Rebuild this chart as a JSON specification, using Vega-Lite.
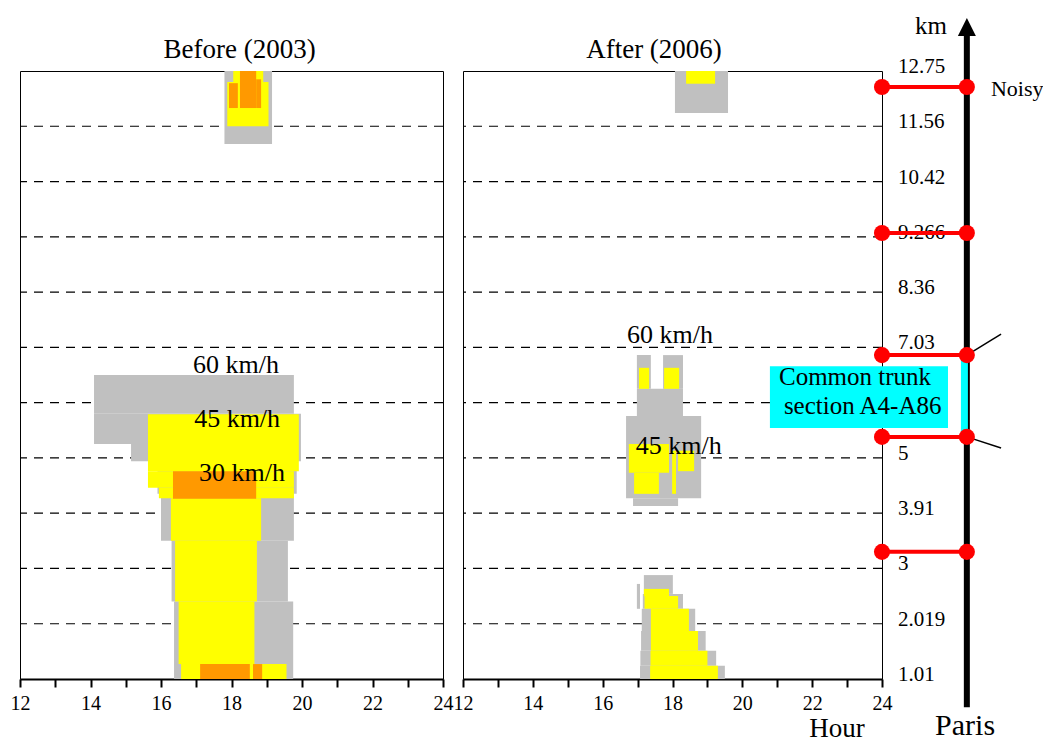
{
  "$schema": "https://vega.github.io/schema/vega-lite/v6.json",
  "padding": {"left": 9, "top": 13, "right": 0, "bottom": 0},
  "bounds": "flush",
  "spacing": 20,
  "config": {
    "font": "Liberation Serif",
    "view": {"stroke": "#000", "strokeWidth": 1},
    "axisX": {
      "values": [12, 13, 14, 15, 16, 17, 18, 19, 20, 21, 22, 23, 24],
      "labelExpr": "datum.value % 2 == 0 ? datum.label : ''",
      "tickSize": 8, "tickWidth": 2, "tickColor": "#000",
      "domainColor": "#000", "domainWidth": 2,
      "labelFont": "Liberation Serif", "labelFontSize": 20, "labelColor": "#000",
      "labelPadding": 6, "grid": false, "title": null, "labelFlush": false
    }
  },
  "datasets": {
    "dashes": [{"v": 1}, {"v": 2}, {"v": 3}, {"v": 4}, {"v": 5}, {"v": 6}, {"v": 7}, {"v": 8}, {"v": 9}, {"v": 10}],
    "titles": [
      {"panel": "Before", "label": "Before (2003)", "x": 18.23, "y": 11.236},
      {"panel": "After", "label": "After (2006)", "x": 17.47, "y": 11.236}
    ],
    "cells": [
      {"panel": "Before", "speed": "60", "x1": 17.8, "x2": 19.15, "y1": 9.68, "y2": 11},
      {"panel": "Before", "speed": "60", "x1": 14.1, "x2": 19.77, "y1": 4.8, "y2": 5.5},
      {"panel": "Before", "speed": "60", "x1": 14.1, "x2": 19.97, "y1": 4.25, "y2": 4.8},
      {"panel": "Before", "speed": "60", "x1": 15.15, "x2": 19.97, "y1": 3.94, "y2": 4.25},
      {"panel": "Before", "speed": "60", "x1": 15.9, "x2": 19.85, "y1": 3.35, "y2": 3.94},
      {"panel": "Before", "speed": "60", "x1": 16.0, "x2": 19.77, "y1": 2.5, "y2": 3.35},
      {"panel": "Before", "speed": "60", "x1": 16.3, "x2": 19.6, "y1": 1.4, "y2": 2.5},
      {"panel": "Before", "speed": "60", "x1": 16.37, "x2": 19.75, "y1": 0, "y2": 1.4},
      {"panel": "Before", "speed": "45", "x1": 17.88, "x2": 19.05, "y1": 10.0, "y2": 10.8},
      {"panel": "Before", "speed": "45", "x1": 18.05, "x2": 18.9, "y1": 10.8, "y2": 11},
      {"panel": "Before", "speed": "45", "x1": 15.63, "x2": 19.91, "y1": 3.76, "y2": 4.79},
      {"panel": "Before", "speed": "45", "x1": 15.63, "x2": 19.77, "y1": 3.46, "y2": 3.76},
      {"panel": "Before", "speed": "45", "x1": 15.94, "x2": 19.77, "y1": 3.27, "y2": 3.46},
      {"panel": "Before", "speed": "45", "x1": 16.28, "x2": 18.84, "y1": 2.5, "y2": 3.27},
      {"panel": "Before", "speed": "45", "x1": 16.4, "x2": 18.72, "y1": 1.4, "y2": 2.5},
      {"panel": "Before", "speed": "45", "x1": 16.5, "x2": 18.65, "y1": 0.27, "y2": 1.4},
      {"panel": "Before", "speed": "45", "x1": 16.57, "x2": 19.56, "y1": 0, "y2": 0.27},
      {"panel": "Before", "speed": "30", "x1": 18.24, "x2": 18.7, "y1": 10.33, "y2": 11},
      {"panel": "Before", "speed": "30", "x1": 18.7, "x2": 18.84, "y1": 10.33, "y2": 10.85},
      {"panel": "Before", "speed": "30", "x1": 17.93, "x2": 18.18, "y1": 10.33, "y2": 10.78},
      {"panel": "Before", "speed": "30", "x1": 16.34, "x2": 18.7, "y1": 3.26, "y2": 3.76},
      {"panel": "Before", "speed": "30", "x1": 17.11, "x2": 18.52, "y1": 0, "y2": 0.27},
      {"panel": "Before", "speed": "30", "x1": 18.61, "x2": 18.87, "y1": 0, "y2": 0.27},
      {"panel": "After", "speed": "60", "x1": 18.07, "x2": 19.59, "y1": 10.24, "y2": 11},
      {"panel": "After", "speed": "60", "x1": 16.98, "x2": 17.38, "y1": 5.25, "y2": 5.86},
      {"panel": "After", "speed": "60", "x1": 17.73, "x2": 18.3, "y1": 5.25, "y2": 5.86},
      {"panel": "After", "speed": "60", "x1": 16.98, "x2": 18.3, "y1": 4.76, "y2": 5.25},
      {"panel": "After", "speed": "60", "x1": 16.67, "x2": 18.82, "y1": 3.27, "y2": 4.76},
      {"panel": "After", "speed": "60", "x1": 16.87, "x2": 18.16, "y1": 3.13, "y2": 3.27},
      {"panel": "After", "speed": "60", "x1": 17.18, "x2": 18.01, "y1": 1.54, "y2": 1.88},
      {"panel": "After", "speed": "60", "x1": 17.15, "x2": 18.3, "y1": 1.27, "y2": 1.54},
      {"panel": "After", "speed": "60", "x1": 17.12, "x2": 18.65, "y1": 0.87, "y2": 1.27},
      {"panel": "After", "speed": "60", "x1": 17.1, "x2": 18.95, "y1": 0.51, "y2": 0.87},
      {"panel": "After", "speed": "60", "x1": 17.08, "x2": 19.25, "y1": 0.24, "y2": 0.51},
      {"panel": "After", "speed": "60", "x1": 17.07, "x2": 19.5, "y1": 0, "y2": 0.24},
      {"panel": "After", "speed": "60", "x1": 16.98, "x2": 17.07, "y1": 1.27, "y2": 1.72},
      {"panel": "After", "speed": "45", "x1": 18.39, "x2": 19.22, "y1": 10.77, "y2": 11},
      {"panel": "After", "speed": "45", "x1": 17.04, "x2": 17.33, "y1": 5.25, "y2": 5.63},
      {"panel": "After", "speed": "45", "x1": 17.76, "x2": 18.19, "y1": 5.25, "y2": 5.63},
      {"panel": "After", "speed": "45", "x1": 16.75, "x2": 17.9, "y1": 3.73, "y2": 4.25},
      {"panel": "After", "speed": "45", "x1": 16.9, "x2": 17.61, "y1": 3.35, "y2": 3.73},
      {"panel": "After", "speed": "45", "x1": 18.16, "x2": 18.62, "y1": 3.76, "y2": 4.13},
      {"panel": "After", "speed": "45", "x1": 17.99, "x2": 18.1, "y1": 3.35, "y2": 4.13},
      {"panel": "After", "speed": "45", "x1": 17.18, "x2": 17.9, "y1": 1.5, "y2": 1.63},
      {"panel": "After", "speed": "45", "x1": 17.2, "x2": 18.16, "y1": 1.27, "y2": 1.5},
      {"panel": "After", "speed": "45", "x1": 17.38, "x2": 18.47, "y1": 0.87, "y2": 1.27},
      {"panel": "After", "speed": "45", "x1": 17.38, "x2": 18.73, "y1": 0.51, "y2": 0.87},
      {"panel": "After", "speed": "45", "x1": 17.37, "x2": 19.0, "y1": 0.24, "y2": 0.51},
      {"panel": "After", "speed": "45", "x1": 17.36, "x2": 19.3, "y1": 0, "y2": 0.24}
    ],
    "speedLabels": [
      {"panel": "Before", "label": "60 km/h", "x": 16.91, "y": 5.54},
      {"panel": "Before", "label": "45 km/h", "x": 16.94, "y": 4.56},
      {"panel": "Before", "label": "30 km/h", "x": 17.08, "y": 3.58},
      {"panel": "After", "label": "60 km/h", "x": 16.7, "y": 6.08},
      {"panel": "After", "label": "45 km/h", "x": 16.95, "y": 4.07}
    ],
    "kmLabels": [
      {"v": 0, "label": "1.01"}, {"v": 1, "label": "2.019"}, {"v": 2, "label": "3"},
      {"v": 3, "label": "3.91"}, {"v": 4, "label": "5"}, {"v": 6, "label": "7.03"},
      {"v": 7, "label": "8.36"}, {"v": 8, "label": "9.266"}, {"v": 9, "label": "10.42"},
      {"v": 10, "label": "11.56"}, {"v": 11, "label": "12.75"}
    ],
    "markers": [{"y": 10.71}, {"y": 8.07}, {"y": 5.86}, {"y": 4.38}, {"y": 2.3}],
    "boxText": [
      {"label": "Common trunk", "x": 21.05, "y": 5.32},
      {"label": "section A4-A86", "x": 21.19, "y": 4.79}
    ],
    "one": [{}]
  },
  "hconcat": [
    {
      "width": 423,
      "height": 608,
      "layer": [
        {
          "data": {"name": "dashes"},
          "mark": {"type": "rule", "strokeDash": [9, 7], "strokeWidth": 1.2, "color": "#000"},
          "encoding": {"y": {"field": "v", "type": "quantitative", "scale": {"domain": [0, 11], "nice": false, "zero": false}, "axis": null}}
        },
        {
          "data": {"name": "cells"},
          "transform": [{"filter": "datum.panel == 'Before'"}],
          "mark": {"type": "rect"},
          "encoding": {
            "x": {"field": "x1", "type": "quantitative", "scale": {"domain": [12, 24], "nice": false, "zero": false}},
            "x2": {"field": "x2"},
            "y": {"field": "y1", "type": "quantitative"},
            "y2": {"field": "y2"},
            "color": {"field": "speed", "type": "nominal", "scale": {"domain": ["60", "45", "30"], "range": ["#c0c0c0", "#ffff00", "#ff9900"]}, "legend": null}
          }
        },
        {
          "data": {"name": "speedLabels"},
          "transform": [{"filter": "datum.panel == 'Before'"}],
          "mark": {"type": "text", "align": "left", "baseline": "alphabetic", "fontSize": 26, "font": "Liberation Serif", "color": "#000"},
          "encoding": {
            "x": {"field": "x", "type": "quantitative"},
            "y": {"field": "y", "type": "quantitative"},
            "text": {"field": "label"}
          }
        },
        {
          "data": {"name": "titles"},
          "transform": [{"filter": "datum.panel == 'Before'"}],
          "mark": {"type": "text", "align": "center", "baseline": "alphabetic", "fontSize": 27, "font": "Liberation Serif", "color": "#000"},
          "encoding": {
            "x": {"field": "x", "type": "quantitative"},
            "y": {"field": "y", "type": "quantitative"},
            "text": {"field": "label"}
          }
        }
      ]
    },
    {
      "width": 419,
      "height": 608,
      "layer": [
        {
          "data": {"name": "dashes"},
          "mark": {"type": "rule", "strokeDash": [9, 7], "strokeWidth": 1.2, "color": "#000"},
          "encoding": {"y": {"field": "v", "type": "quantitative", "scale": {"domain": [0, 11], "nice": false, "zero": false}, "axis": null}}
        },
        {
          "data": {"name": "cells"},
          "transform": [{"filter": "datum.panel == 'After'"}],
          "mark": {"type": "rect"},
          "encoding": {
            "x": {"field": "x1", "type": "quantitative", "scale": {"domain": [12, 24], "nice": false, "zero": false}},
            "x2": {"field": "x2"},
            "y": {"field": "y1", "type": "quantitative"},
            "y2": {"field": "y2"},
            "color": {"field": "speed", "type": "nominal", "scale": {"domain": ["60", "45", "30"], "range": ["#c0c0c0", "#ffff00", "#ff9900"]}, "legend": null}
          }
        },
        {
          "data": {"name": "speedLabels"},
          "transform": [{"filter": "datum.panel == 'After'"}],
          "mark": {"type": "text", "align": "left", "baseline": "alphabetic", "fontSize": 26, "font": "Liberation Serif", "color": "#000"},
          "encoding": {
            "x": {"field": "x", "type": "quantitative"},
            "y": {"field": "y", "type": "quantitative"},
            "text": {"field": "label"}
          }
        },
        {
          "data": {"name": "titles"},
          "transform": [{"filter": "datum.panel == 'After'"}],
          "mark": {"type": "text", "align": "center", "baseline": "alphabetic", "fontSize": 27, "font": "Liberation Serif", "color": "#000"},
          "encoding": {
            "x": {"field": "x", "type": "quantitative"},
            "y": {"field": "y", "type": "quantitative"},
            "text": {"field": "label"}
          }
        },
        {
          "data": {"name": "kmLabels"},
          "mark": {"type": "text", "align": "left", "baseline": "alphabetic", "fontSize": 21, "font": "Liberation Serif", "color": "#000", "dx": 16, "dy": 2},
          "encoding": {
            "x": {"datum": 24},
            "y": {"field": "v", "type": "quantitative"},
            "text": {"field": "label"}
          }
        },
        {
          "data": {"name": "one"},
          "mark": {"type": "rule", "color": "#000", "strokeWidth": 6, "strokeCap": "butt"},
          "encoding": {"x": {"datum": 26.43}, "y": {"datum": -0.51}, "y2": {"datum": 11.64}}
        },
        {
          "data": {"name": "one"},
          "mark": {"type": "point", "shape": "M0,-1L1,1L-1,1Z", "filled": true, "color": "#000", "size": 324, "opacity": 1},
          "encoding": {"x": {"datum": 26.43}, "y": {"datum": 11.797}}
        },
        {
          "data": {"name": "one"},
          "mark": {"type": "rule", "color": "#00ffff", "strokeWidth": 7, "strokeCap": "butt"},
          "encoding": {"x": {"datum": 26.36}, "y": {"datum": 4.38}, "y2": {"datum": 5.86}}
        },
        {
          "data": {"name": "one"},
          "mark": {"type": "rule", "color": "#000", "strokeWidth": 1.5},
          "encoding": {"x": {"datum": 26.43}, "x2": {"datum": 27.41}, "y": {"datum": 5.86}, "y2": {"datum": 6.24}}
        },
        {
          "data": {"name": "one"},
          "mark": {"type": "rule", "color": "#000", "strokeWidth": 1.5},
          "encoding": {"x": {"datum": 26.43}, "x2": {"datum": 27.41}, "y": {"datum": 4.38}, "y2": {"datum": 4.18}}
        },
        {
          "data": {"name": "markers"},
          "mark": {"type": "rule", "color": "#ff0000", "strokeWidth": 4},
          "encoding": {"x": {"datum": 24}, "x2": {"datum": 26.43}, "y": {"field": "y", "type": "quantitative"}}
        },
        {
          "data": {"name": "markers"},
          "mark": {"type": "point", "filled": true, "color": "#ff0000", "size": 260, "opacity": 1},
          "encoding": {"x": {"datum": 24}, "y": {"field": "y", "type": "quantitative"}}
        },
        {
          "data": {"name": "markers"},
          "mark": {"type": "point", "filled": true, "color": "#ff0000", "size": 260, "opacity": 1},
          "encoding": {"x": {"datum": 26.43}, "y": {"field": "y", "type": "quantitative"}}
        },
        {
          "data": {"name": "one"},
          "mark": {"type": "rect", "color": "#00ffff"},
          "encoding": {"x": {"datum": 20.79}, "x2": {"datum": 25.89}, "y": {"datum": 4.54}, "y2": {"datum": 5.66}}
        },
        {
          "data": {"name": "boxText"},
          "mark": {"type": "text", "align": "left", "baseline": "alphabetic", "fontSize": 25, "font": "Liberation Serif", "color": "#000"},
          "encoding": {
            "x": {"field": "x", "type": "quantitative"},
            "y": {"field": "y", "type": "quantitative"},
            "text": {"field": "label"}
          }
        },
        {
          "data": {"name": "one"},
          "mark": {"type": "text", "text": "Noisy", "align": "left", "baseline": "alphabetic", "fontSize": 22, "font": "Liberation Serif", "color": "#000"},
          "encoding": {"x": {"datum": 27.12}, "y": {"datum": 10.55}}
        },
        {
          "data": {"name": "one"},
          "mark": {"type": "text", "text": "km", "align": "center", "baseline": "alphabetic", "fontSize": 25, "font": "Liberation Serif", "color": "#000"},
          "encoding": {"x": {"datum": 25.4}, "y": {"datum": 11.67}}
        },
        {
          "data": {"name": "one"},
          "mark": {"type": "text", "text": "Paris", "align": "center", "baseline": "alphabetic", "fontSize": 30, "font": "Liberation Serif", "color": "#000"},
          "encoding": {"x": {"datum": 26.38}, "y": {"datum": -1.02}}
        },
        {
          "data": {"name": "one"},
          "mark": {"type": "text", "text": "Hour", "align": "center", "baseline": "alphabetic", "fontSize": 27, "font": "Liberation Serif", "color": "#000"},
          "encoding": {"x": {"datum": 22.71}, "y": {"datum": -1.05}}
        }
      ]
    }
  ]
}
